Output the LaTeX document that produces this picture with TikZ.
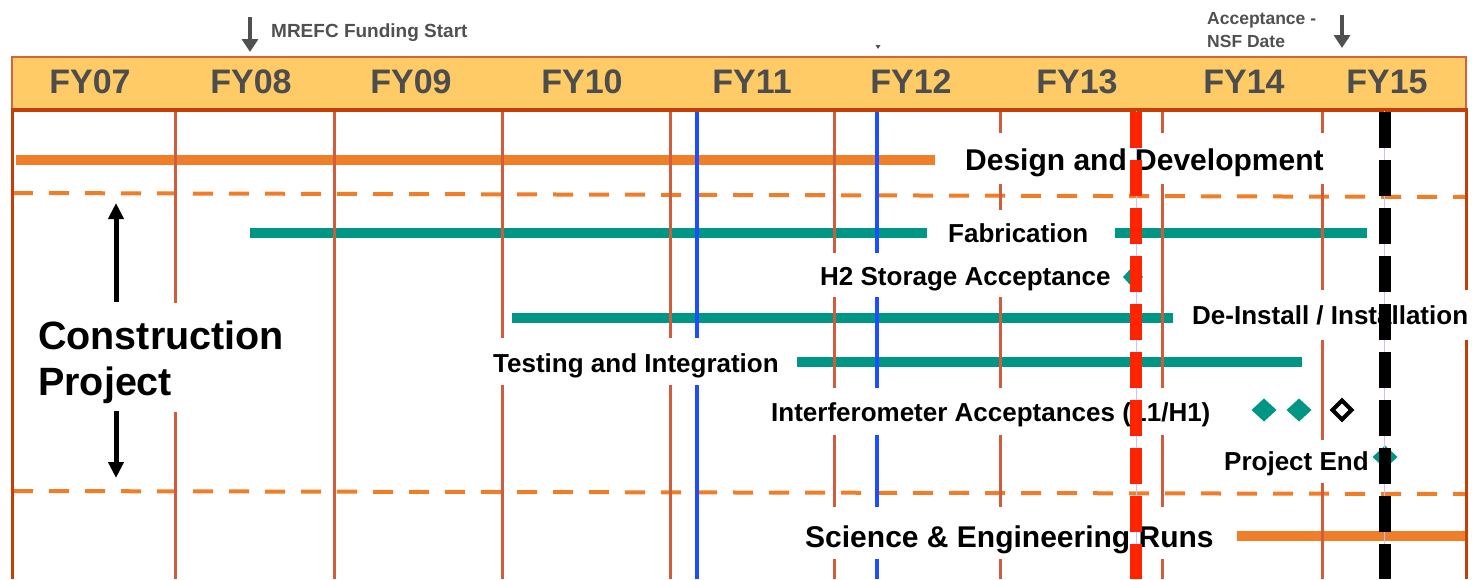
\documentclass[tikz,border=0pt]{standalone}
\usepackage{fontspec}
\setmainfont{Liberation Sans}
\usetikzlibrary{arrows.meta}
\definecolor{hdr}{HTML}{FECB66}
\definecolor{hdrb}{HTML}{D4643E}
\definecolor{hdrdark}{HTML}{C43F08}
\definecolor{gridc}{HTML}{CF5C3C}
\definecolor{orbar}{HTML}{F07D27}
\definecolor{tealbar}{HTML}{009685}
\definecolor{bluel}{HTML}{1E4DFF}
\definecolor{redl}{HTML}{FF2400}
\definecolor{violl}{HTML}{D9B8FF}
\definecolor{fyc}{HTML}{4D4D4D}
\definecolor{grayt}{HTML}{505050}
\begin{document}
\begin{tikzpicture}[x=1pt,y=-1pt,
  gridline/.style={draw=gridc,line width=3pt},
  border/.style={draw=hdrdark,line width=3pt},
  blueline/.style={draw=bluel,line width=3.2pt},
  orangebar/.style={draw=orbar,line width=10pt},
  tealbarst/.style={draw=tealbar,line width=10pt},
  hdash/.style={draw=orbar,line width=4pt,dash pattern=on 20pt off 16pt},
  mask/.style={fill=white,draw=none},
  fy/.style={anchor=base,inner sep=0pt,text=fyc,font=\bfseries\fontsize{34}{38}\selectfont},
  lbl/.style={anchor=base west,inner sep=0pt,font=\bfseries\fontsize{26}{30}\selectfont},
  biglbl/.style={anchor=base west,inner sep=0pt,font=\bfseries\fontsize{30}{34}\selectfont},
  conlbl/.style={anchor=base west,inner sep=0pt,font=\bfseries\fontsize{39.5}{44}\selectfont},
  toplbl/.style={anchor=base west,inner sep=0pt,text=grayt,font=\bfseries\fontsize{19}{22}\selectfont},
  acclbl/.style={anchor=base west,inner sep=0pt,text=grayt,font=\bfseries\fontsize{17.5}{20}\selectfont},
  grayarrow/.style={draw=grayt,line width=4.5pt,-{Triangle[width=16pt,length=13pt]}},
  blackarrow/.style={draw=black,line width=5pt,-{Triangle[width=15pt,length=16pt]}},
  milestone/.style={draw=none,fill=tealbar},
  openmilestone/.style={draw=black,line width=4pt,fill=white},
  thinviol/.style={draw=violl,line width=1pt},
  reddash/.style={draw=redl,line width=12pt,dash pattern=on 36pt off 12pt},
  blackdash/.style={draw=black,line width=12pt,dash pattern=on 36pt off 12pt}]
\useasboundingbox (0,0) rectangle (1472,579);

% bars
\draw[orangebar] (16,160) -- (935,160);
\draw[tealbarst] (250,233) -- (927,233);
\draw[tealbarst] (1115,233) -- (1367,233);
\draw[tealbarst] (512,318) -- (1173,318);
\draw[tealbarst] (797,362) -- (1302,362);
\draw[orangebar] (1237,536) -- (1467,536);

% dashed horizontal separators
\draw[hdash] (13,193) -- (1466,197);
\draw[hdash] (13,491) -- (1466,494);

% grid
\foreach \gx in {175,334,502,670,834,1000,1162,1322}
  \draw[gridline] (\gx,111) -- (\gx,579);
\draw[border] (12,110) -- (12,579);
\draw[border] (1466,110) -- (1466,579);
\draw[blueline] (697,111) -- (697,579);
\draw[blueline] (877,111) -- (877,579);

% white label backgrounds
\fill[mask] (30,303) rectangle (290,412);
\fill[mask] (955,133) rectangle (1335,184);
\fill[mask] (932,210) rectangle (1105,253);
\fill[mask] (812,253) rectangle (1118,297);
\fill[mask] (1183,290) rectangle (1472,340);
\fill[mask] (485,338) rectangle (790,385);
\fill[mask] (762,388) rectangle (1222,435);
\fill[mask] (1215,440) rectangle (1372,483);
\fill[mask] (795,507) rectangle (1228,559);

% header
\draw[fill=hdr,draw=hdrb,line width=2.5pt] (12,57) rectangle (1466,110);
\draw[draw=hdrdark,line width=4pt] (10.5,110) -- (1467.5,110);
\node[fy] (fy07) at (90,93) {FY07};
\node[fy] (fy08) at (251,93) {FY08};
\node[fy] (fy09) at (411,93) {FY09};
\node[fy] (fy10) at (582,93) {FY10};
\node[fy] (fy11) at (752,93) {FY11};
\node[fy] (fy12) at (911,93) {FY12};
\node[fy] (fy13) at (1077,93) {FY13};
\node[fy] (fy14) at (1244,93) {FY14};
\node[fy] (fy15) at (1387,93) {FY15};

% top annotations
\node[toplbl] (mrefc) at (271,37) {MREFC Funding Start};
\coordinate (mrefcA) at (250,17);
\coordinate (mrefcB) at (250,52);
\draw[grayarrow] (mrefcA) -- (mrefcB);
\node[acclbl] (acc1) at (1207,24) {Acceptance -};
\node[acclbl] (acc2) at (1207,47) {NSF Date};
\coordinate (accA) at (1342,15);
\coordinate (accB) at (1342,48);
\draw[grayarrow] (accA) -- (accB);
\fill[grayt] (875.5,45) -- (880.5,45) -- (878,49) -- cycle;

% labels
\node[conlbl] (cons) at (38,349) {Construction};
\node[conlbl] (proj) at (38,395) {Project};
\coordinate (upA) at (116,302);
\coordinate (upB) at (116,203);
\coordinate (dnA) at (116,411);
\coordinate (dnB) at (116,478);
\draw[blackarrow] (upA) -- (upB);
\draw[blackarrow] (dnA) -- (dnB);

\node[biglbl] (design) at (965,170) {Design and Development};
\node[lbl] (fab) at (948,242) {Fabrication};
\node[lbl] (h2) at (820,285) {H2 Storage Acceptance};
\node[lbl] (deinst) at (1192,324) {De-Install / Installation};
\node[lbl] (test) at (493,372) {Testing and Integration};
\node[lbl] (ifo) at (771,421) {Interferometer Acceptances (L1/H1)};
\node[lbl] (pend) at (1224,470) {Project End};
\node[biglbl] (sci) at (805,547) {Science \& Engineering Runs};

% milestones under dashed lines
\fill[milestone] (1123,277) -- (1133,266) -- (1143,277) -- (1133,288) -- cycle;
\fill[milestone] (1372.5,457) -- (1385,445.5) -- (1397.5,457) -- (1385,468.5) -- cycle;

% key date lines
\draw[thinviol] (1136,111) -- (1136,579);
\draw[reddash] (1136,112) -- (1136,579);
\draw[thinviol] (1384.5,111) -- (1384.5,579);
\draw[blackdash] (1384.5,112) -- (1384.5,579);

% interferometer milestones
\fill[milestone] (1251.5,410) -- (1264,398.5) -- (1276.5,410) -- (1264,421.5) -- cycle;
\fill[milestone] (1286.5,410) -- (1299,398.5) -- (1311.5,410) -- (1299,421.5) -- cycle;
\draw[openmilestone] (1332.5,410) -- (1342,400.5) -- (1351.5,410) -- (1342,419.5) -- cycle;
\end{tikzpicture}
\end{document}
